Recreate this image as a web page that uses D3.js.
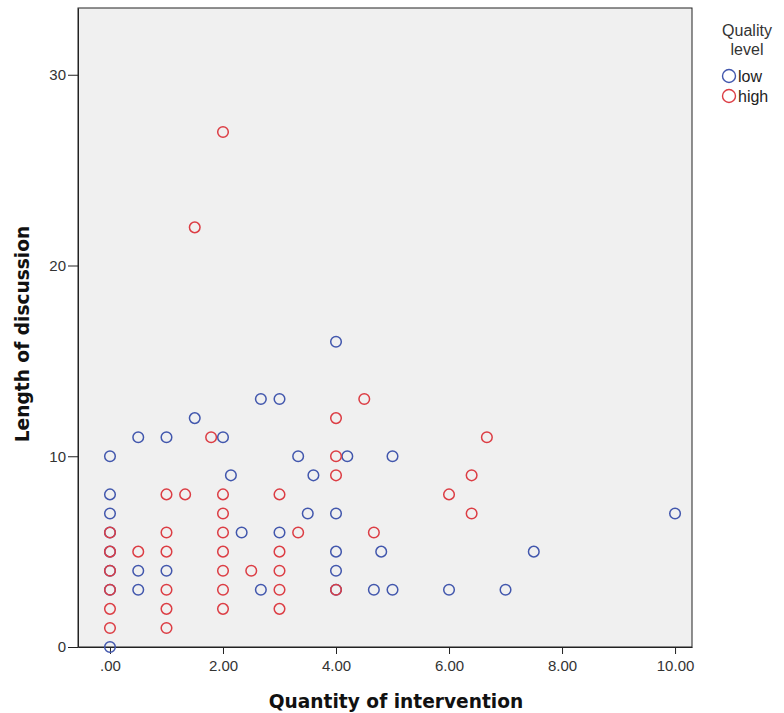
<!DOCTYPE html>
<html>
<head>
<meta charset="utf-8">
<script src="https://cdn.jsdelivr.net/npm/d3@7"></script>
<style>
  body { margin: 0; background: #fff; }
  text { font-family: "Liberation Sans", Arial, sans-serif; }
</style>
</head>
<body>
<svg id="chart"></svg>
<script>
// data
const lowX = [0, 0, 0, 0, 0, 0, 0, 0, 0.5, 0.5, 0.5, 1, 1, 1.5, 2, 2.14, 2.33, 2.67, 2.67, 3, 3, 3.33, 3.5, 3.6,
  4, 4, 4, 4, 4, 4.2, 4.67, 4.8, 5, 5, 6, 7, 7.5, 10];
const lowY = [0, 7, 8, 10, 3, 4, 5, 6, 11, 4, 3, 11, 4, 12, 11, 9, 6, 3, 13, 6, 13, 10, 7, 9,
  16, 7, 5, 4, 3, 10, 3, 5, 3, 10, 3, 3, 5, 7];
const highX = [0, 0, 0, 0, 0, 0, 0.5, 1, 1, 1, 1, 1, 1, 1.33, 1.5, 1.79, 2, 2, 2, 2, 2, 2, 2, 2, 2.5,
  3, 3, 3, 3, 3, 3.33, 4, 4, 4, 4, 4.5, 4.67, 6, 6.4, 6.4, 6.67];
const highY = [1, 2, 3, 4, 5, 6, 5, 8, 6, 5, 3, 2, 1, 8, 22, 11, 27, 8, 7, 6, 5, 4, 3, 2, 4,
  8, 5, 4, 3, 2, 6, 12, 10, 9, 3, 13, 6, 8, 9, 7, 11];
const xTicks = [0, 2, 4, 6, 8, 10];
const yTicks = [0, 10, 20, 30];
const groups = ["low", "high"];
const colors = ["#4257ad", "#dc3d44"];

const width = 784, height = 713;
const plot = { left: 78, right: 692, top: 8, bottom: 647 };

const svg = d3.select("#chart").attr("width", width).attr("height", height);

const x = d3.scaleLinear().domain([-0.566, 10.3]).range([plot.left, plot.right]);
const y = d3.scaleLinear().domain([0, 33.5]).range([plot.bottom, plot.top]);

// plot background
svg.append("rect")
  .attr("x", plot.left).attr("y", plot.top)
  .attr("width", plot.right - plot.left).attr("height", plot.bottom - plot.top)
  .attr("fill", "#f0f0f0")
  .attr("stroke", "#222").attr("stroke-width", 1);

// axes
const xAxis = svg.append("g")
  .attr("transform", `translate(0,${plot.bottom})`)
  .call(d3.axisBottom(x).tickValues(xTicks).tickSize(7).tickSizeOuter(0)
    .tickFormat(d => d === 0 ? ".00" : d3.format(".2f")(d)));
const yAxis = svg.append("g")
  .attr("transform", `translate(${plot.left},0)`)
  .call(d3.axisLeft(y).tickValues(yTicks).tickSize(10).tickSizeOuter(0));

[xAxis, yAxis].forEach(g => {
  g.select(".domain").attr("stroke", "#222");
  g.selectAll(".tick line").attr("stroke", "#222");
  g.selectAll(".tick text").attr("fill", "#333").style("font-size", "15px")
    .style("font-family", "'Liberation Sans', Arial, sans-serif");
});
xAxis.selectAll(".tick text").attr("y", 10).attr("dy", "0.95em");
yAxis.selectAll(".tick text").attr("x", -12);

// points
const drawPoints = (xs, ys, color) => {
  svg.append("g").selectAll("circle")
    .data(xs.map((v, i) => [v, ys[i]]))
    .join("circle")
      .attr("cx", d => x(d[0]))
      .attr("cy", d => y(d[1]))
      .attr("r", 5.3)
      .attr("fill", "none")
      .attr("stroke", color)
      .attr("stroke-width", 1.5);
};
drawPoints(lowX, lowY, colors[0]);
drawPoints(highX, highY, colors[1]);

// axis titles
svg.append("text")
  .attr("x", 396).attr("y", 708)
  .attr("text-anchor", "middle")
  .style("font-family", "'DejaVu Sans', Verdana, sans-serif")
  .style("font-size", "18.6px").style("font-weight", "bold").attr("fill", "#111")
  .text("Quantity of intervention");

svg.append("text")
  .attr("transform", "translate(29,334) rotate(-90)")
  .attr("text-anchor", "middle")
  .style("font-family", "'DejaVu Sans', Verdana, sans-serif")
  .style("font-size", "18.6px").style("font-weight", "bold").attr("fill", "#111")
  .text("Length of discussion");

// legend
const legend = svg.append("g");
legend.append("text").attr("x", 747).attr("y", 36).attr("text-anchor", "middle")
  .style("font-size", "16px").attr("fill", "#333").text("Quality");
legend.append("text").attr("x", 747).attr("y", 55).attr("text-anchor", "middle")
  .style("font-size", "16px").attr("fill", "#333").text("level");
groups.forEach((gname, i) => {
  legend.append("circle")
    .attr("cx", 729).attr("cy", 76 + i * 20).attr("r", 6.5)
    .attr("fill", "none").attr("stroke", colors[i]).attr("stroke-width", 1.4);
  legend.append("text")
    .attr("x", 738).attr("y", 82 + i * 20)
    .style("font-size", "16px").attr("fill", "#222").text(gname);
});
</script>
</body>
</html>
